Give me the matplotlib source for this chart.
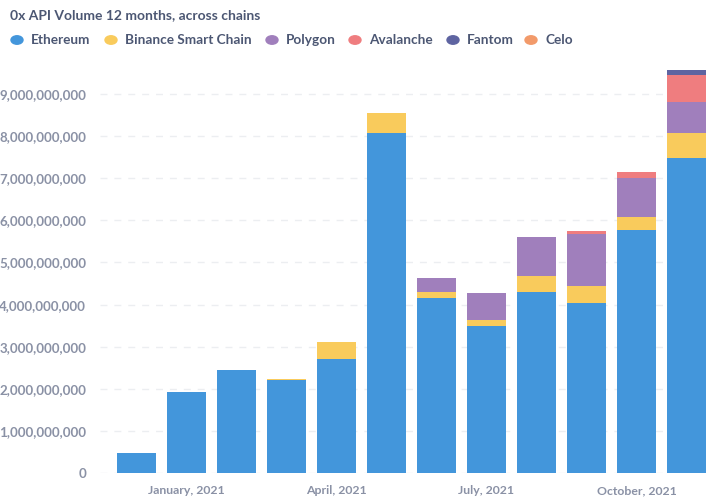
import numpy as np
import matplotlib.pyplot as plt
from matplotlib.ticker import FuncFormatter

# monthly volume in USD, Dec 2020 .. Nov 2021
months = ["Dec 2020", "Jan 2021", "Feb 2021", "Mar 2021", "Apr 2021", "May 2021",
          "Jun 2021", "Jul 2021", "Aug 2021", "Sep 2021", "Oct 2021", "Nov 2021"]
ethereum = [0.47e9, 1.92e9, 2.45e9, 2.21e9, 2.71e9, 8.08e9,
            4.16e9, 3.48e9, 4.30e9, 4.04e9, 5.77e9, 7.49e9]
bsc = [0, 0, 0, 0.02e9, 0.40e9, 0.47e9,
       0.14e9, 0.15e9, 0.38e9, 0.40e9, 0.31e9, 0.59e9]
polygon = [0, 0, 0, 0, 0, 0,
           0.33e9, 0.65e9, 0.93e9, 1.24e9, 0.93e9, 0.72e9]
avalanche = [0, 0, 0, 0, 0, 0,
             0, 0, 0, 0.07e9, 0.14e9, 0.66e9]
fantom = [0, 0, 0, 0, 0, 0, 0, 0, 0, 0, 0, 0.10e9]
celo = [0, 0, 0, 0, 0, 0, 0, 0, 0, 0, 0, 0]

tick_idx = [1, 4, 7, 10]
tick_labels = ["January, 2021", "April, 2021", "July, 2021", "October, 2021"]

series = [
    ("Ethereum", ethereum, "#4396DB"),
    ("Binance Smart Chain", bsc, "#F9CB5C"),
    ("Polygon", polygon, "#A07FBC"),
    ("Avalanche", avalanche, "#EF7D7F"),
    ("Fantom", fantom, "#5E64A1"),
    ("Celo", celo, "#F29A6A"),
]

plt.rcParams['font.family'] = ['Lato', 'DejaVu Sans']

W, H = 713, 503
fig = plt.figure(figsize=(W / 100, H / 100), dpi=100)
# axes box in pixels: left 100, right 710, top 65, bottom 473
ax = fig.add_axes([100 / W, 1 - 473 / H, 610 / W, 408 / H])

x = np.arange(len(months))
bottom = np.zeros(len(months))
for name, vals, color in series:
    vals = np.array(vals)
    ax.bar(x, vals, width=0.78, bottom=bottom, color=color, linewidth=0, zorder=3)
    bottom += vals

ax.set_xlim(-0.73, 11.47)
ax.set_ylim(0, 9.69e9)
ax.set_yticks(np.arange(0, 10e9, 1e9))
ax.yaxis.set_major_formatter(FuncFormatter(lambda v, p: f"{int(round(v)):,}"))
ax.set_xticks(tick_idx)
ax.set_xticklabels(tick_labels)

ax.grid(axis='y', color='#ECEEF1', linestyle=(0, (5, 5)), linewidth=1, zorder=0)
for s in ax.spines.values():
    s.set_visible(False)
ax.tick_params(axis='both', length=0, labelcolor='#8A91A5')
ax.tick_params(axis='y', pad=10, labelsize=9.6)
ax.tick_params(axis='x', pad=9, labelsize=8.8)
for lab in ax.get_xticklabels() + ax.get_yticklabels():
    lab.set_fontweight('bold')

# title and legend
fig.text(10 / W, 1 - 15 / H, "0x API Volume 12 months, across chains", fontsize=10,
         color='#4C5773', fontweight='bold', va='center', ha='left')
circle_x = [17, 111, 272, 355, 453, 531]
for (name, vals, color), cx in zip(series, circle_x):
    fig.patches.append(plt.Circle((cx / W, 1 - 40 / H), 6 / W, transform=fig.transFigure,
                                  color=color, figure=fig))
    fig.text((cx + 14) / W, 1 - 40 / H, name, fontsize=9.8, color='#4C5773',
             fontweight='bold', va='center', ha='left')

fig.savefig("out.png", dpi=100)
